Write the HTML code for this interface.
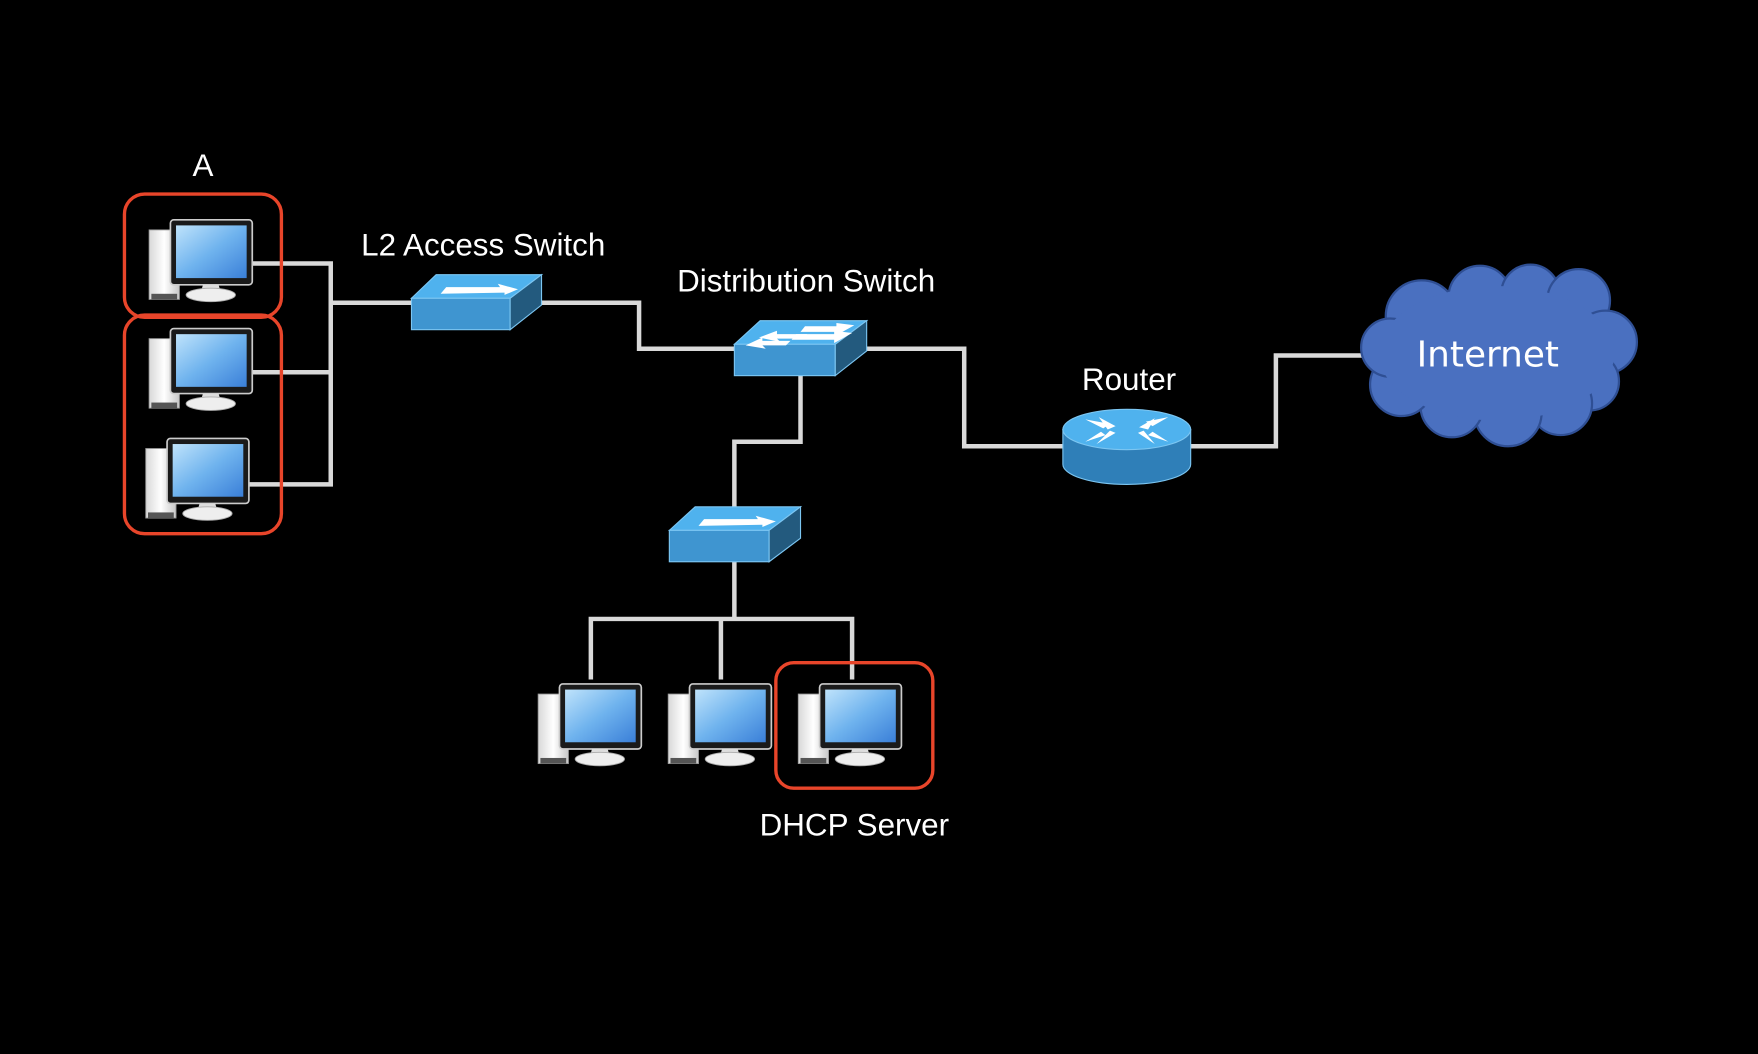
<!DOCTYPE html>
<html><head><meta charset="utf-8"><style>html,body{margin:0;padding:0;background:#000;}svg{display:block}</style></head>
<body>
<svg width="1758" height="1054" viewBox="0 0 1568 940" xmlns="http://www.w3.org/2000/svg">
<defs>
<linearGradient id="scr" x1="0" y1="0" x2="1" y2="1"><stop offset="0" stop-color="#bfe3fb"/><stop offset="0.5" stop-color="#6fb3ee"/><stop offset="1" stop-color="#3a7fd8"/></linearGradient>
<linearGradient id="twr" x1="0" y1="0" x2="1" y2="0"><stop offset="0" stop-color="#d8d8d8"/><stop offset="0.5" stop-color="#ffffff"/><stop offset="1" stop-color="#c8c8c8"/></linearGradient>
<g id="pc">
<rect x="-19" y="9" width="27" height="62" fill="url(#twr)" stroke="#999" stroke-width="0.8"/>
<rect x="-17" y="66" width="23" height="5" fill="#555"/>
<rect x="0" y="0" width="73" height="58" rx="3" fill="#1a1a1a" stroke="#ccc" stroke-width="1.5"/>
<rect x="5" y="5" width="63" height="47" fill="url(#scr)"/>
<path d="M29 58 L43 58 L45 65 L27 65 Z" fill="#ddd"/>
<ellipse cx="36" cy="67" rx="22" ry="6" fill="#eee" stroke="#aaa" stroke-width="0.8"/>
</g>
</defs>
<rect width="1568" height="940" fill="#000"/>
<g fill="none" stroke="#d9d9d9" stroke-width="4">
<polyline points="225,235 295,235 295,432 222,432"/>
<line x1="225" y1="332" x2="295" y2="332"/>
<line x1="295" y1="270" x2="367" y2="270"/>
<polyline points="483,270 570,270 570,311 655,311"/>
<polyline points="773,311 860,311 860,398 948,398"/>
<polyline points="1062,398 1138,398 1138,317 1215,317"/>
<polyline points="714,335 714,394 655,394 655,452"/>
<line x1="655" y1="501" x2="655" y2="552"/>
<polyline points="527,606 527,552 760,552 760,606"/>
<line x1="643" y1="552" x2="643" y2="606"/>
</g>
<use href="#pc" x="152" y="196"/>
<use href="#pc" x="152" y="293"/>
<use href="#pc" x="149" y="391"/>
<use href="#pc" x="499" y="610"/>
<use href="#pc" x="615" y="610"/>
<use href="#pc" x="731" y="610"/>
<g stroke="#7cc6f2" stroke-width="1">
<path d="M367 266 L389 245 L483 245 L455 266 Z" fill="#4fb2ee"/>
<rect x="367" y="266" width="88" height="28" fill="#3f95d0"/>
<path d="M455 266 L483 245 L483 272 L455 294 Z" fill="#235a7e"/>
<path d="M393 262 L398 256 L446 256 L444 253 L462 258 L450 263 L450 261 Z" fill="#fff" stroke="none"/>
<path d="M597 473 L620 452 L714 452 L686 473 Z" fill="#4fb2ee"/>
<rect x="597" y="473" width="89" height="28" fill="#3f95d0"/>
<path d="M686 473 L714 452 L714 480 L686 501 Z" fill="#235a7e"/>
<path d="M623 469 L628 463 L676 463 L674 460 L692 465 L680 470 L680 468 Z" fill="#fff" stroke="none"/>
<path d="M655 307 L678 286 L773 286 L745 307 Z" fill="#4fb2ee"/>
<rect x="655" y="307" width="90" height="28" fill="#3f95d0"/>
<path d="M745 307 L773 286 L773 313 L745 335 Z" fill="#235a7e"/>
</g>
<g fill="#fff">
<path d="M762 290 L746 299 L746 296 L714 296 L718 291 L746 291 L746 288 Z"/>
<path d="M677 301 L693 295 L693 298 L720 298 L716 302 L693 302 L696 305 Z"/>
<path d="M760 297 L744 306 L744 303 L706 303 L710 298 L744 298 L744 295 Z"/>
<path d="M665 308 L680 301 L680 304 L705 304 L701 308 L680 308 L683 311 Z"/>
</g>
<path d="M948 383 L948 414 A57 18 0 0 0 1062 414 L1062 383 Z" fill="#2f7fb8" stroke="#7cc6f2"/>
<ellipse cx="1005" cy="383" rx="57" ry="18" fill="#4fb2ee" stroke="#7cc6f2"/>
<g fill="#fff">
<path d="M968 374 L990 378 L984 382 L968 374 Z M980 372 L995 380 L988 383 Z"/>
<path d="M1042 372 L1022 376 L1028 380 Z M1030 373 L1016 381 L1024 383 Z"/>
<path d="M968 394 L986 388 L982 385 Z M978 396 L995 386 L990 384 Z"/>
<path d="M1042 394 L1024 388 L1028 385 Z M1030 396 L1015 386 L1020 384 Z"/>
</g>
<g fill="#4a70c0" stroke="#2f4f94" stroke-width="2">
<circle cx="1268" cy="282" r="32"/>
<circle cx="1320" cy="265" r="28"/>
<circle cx="1365" cy="262" r="26"/>
<circle cx="1408" cy="268" r="28"/>
<circle cx="1432" cy="305" r="28"/>
<circle cx="1418" cy="340" r="26"/>
<circle cx="1392" cy="360" r="28"/>
<circle cx="1345" cy="368" r="30"/>
<circle cx="1295" cy="362" r="28"/>
<circle cx="1250" cy="343" r="28"/>
<circle cx="1240" cy="310" r="26"/>
</g>
<ellipse cx="1335" cy="315" rx="105" ry="60" fill="#4a70c0"/>
<g fill="none" stroke="#e8452a" stroke-width="3">
<rect x="111" y="173" width="140" height="110" rx="18"/>
<rect x="111" y="281" width="140" height="195" rx="18"/>
<rect x="692" y="591" width="140" height="112" rx="16"/>
</g>
<g fill="#fff" font-family="Liberation Sans, sans-serif" font-size="28" text-anchor="middle">
<text x="181" y="157">A</text>
<text x="431" y="228">L2 Access Switch</text>
<text x="719" y="260">Distribution Switch</text>
<text x="1007" y="348">Router</text>
<text x="762" y="745">DHCP Server</text>
<text x="1327" y="327" font-size="32" font-family="DejaVu Sans, sans-serif">Internet</text>
</g>
</svg>
</body></html>
